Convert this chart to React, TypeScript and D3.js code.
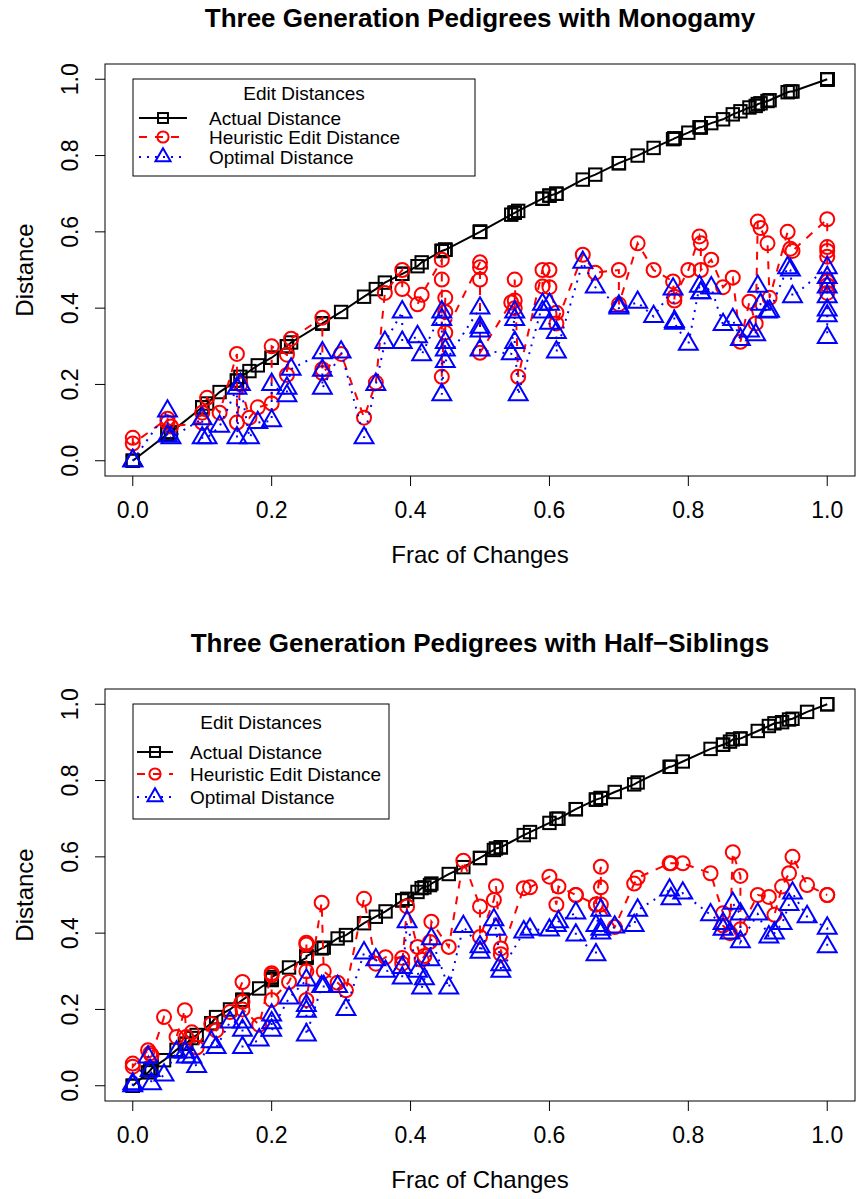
import * as d3 from 'd3';

// ---- data ----
const tickVals = [0, 0.2, 0.4, 0.6, 0.8, 1.0];
const legendTitle = 'Edit Distances';
const legendLabels = ['Actual Distance', 'Heuristic Edit Distance', 'Optimal Distance'];

// Three Generation Pedigrees with Monogamy
const monoFrac = [
  0, 0, 0.05, 0.05, 0.055, 0.1, 0.1, 0.107, 0.125, 0.15, 0.15, 0.155, 0.168, 0.18, 0.2, 0.2,
  0.222, 0.222, 0.228, 0.273, 0.273, 0.273, 0.3, 0.333, 0.35, 0.363, 0.388, 0.388, 0.41, 0.416,
  0.445, 0.445, 0.445, 0.45, 0.45, 0.45, 0.5, 0.5, 0.5, 0.5, 0.545, 0.55, 0.55, 0.55, 0.555,
  0.59, 0.59, 0.6, 0.6, 0.61, 0.61, 0.648, 0.666, 0.7, 0.7, 0.727, 0.75, 0.778, 0.78, 0.78,
  0.8, 0.816, 0.818, 0.818, 0.833, 0.85, 0.864, 0.875, 0.888, 0.897, 0.9, 0.904, 0.914, 0.917,
  0.943, 0.947, 0.95, 1, 1, 1, 1, 1, 1, 1,
];
const monoActual = [
  0, 0, 0.07, 0.075, 0.075, 0.14, 0.14, 0.15, 0.18, 0.21, 0.21, 0.22, 0.235, 0.25, 0.27, 0.27,
  0.3, 0.3, 0.31, 0.36, 0.36, 0.36, 0.39, 0.43, 0.45, 0.467, 0.49, 0.49, 0.51, 0.52,
  0.55, 0.55, 0.55, 0.553, 0.553, 0.553, 0.6, 0.6, 0.6, 0.6, 0.645, 0.65, 0.65, 0.65, 0.655,
  0.687, 0.687, 0.695, 0.695, 0.7, 0.7, 0.737, 0.75, 0.78, 0.78, 0.8, 0.82, 0.843, 0.845, 0.845,
  0.86, 0.874, 0.874, 0.874, 0.885, 0.895, 0.908, 0.916, 0.926, 0.93, 0.935, 0.937, 0.943, 0.945,
  0.966, 0.968, 0.968, 1, 1, 1, 1, 1, 1, 1,
];
const monoHeuristic = [
  0.06, 0.045, 0.11, 0.1, 0.09, 0.1, 0.126, 0.165, 0.126, 0.28, 0.1, 0.2, 0.113, 0.14, 0.15, 0.3,
  0.278, 0.225, 0.32, 0.375, 0.24, 0.23, 0.28, 0.113, 0.205, 0.44, 0.5, 0.45, 0.41, 0.435,
  0.527, 0.475, 0.22, 0.427, 0.39, 0.336, 0.52, 0.507, 0.475, 0.283, 0.415, 0.42, 0.4, 0.475, 0.22,
  0.5, 0.457, 0.5, 0.455, 0.388, 0.36, 0.54, 0.493, 0.5, 0.41, 0.57, 0.5, 0.47, 0.42, 0.43,
  0.5, 0.588, 0.57, 0.5, 0.527, 0.455, 0.48, 0.312, 0.417, 0.36, 0.627, 0.61, 0.57, 0.427,
  0.6, 0.556, 0.55, 0.633, 0.56, 0.55, 0.535, 0.47, 0.46, 0.44,
];
const monoOptimal = [
  0, 0, 0.13, 0.065, 0.06, 0.11, 0.06, 0.06, 0.09, 0.19, 0.06, 0.2, 0.06, 0.1, 0.105, 0.2,
  0.17, 0.19, 0.24, 0.283, 0.237, 0.19, 0.285, 0.06, 0.2, 0.31, 0.39, 0.31, 0.325, 0.278,
  0.39, 0.37, 0.173, 0.31, 0.29, 0.26, 0.4, 0.35, 0.34, 0.29, 0.28, 0.39, 0.37, 0.31, 0.173,
  0.41, 0.39, 0.41, 0.36, 0.336, 0.285, 0.52, 0.455, 0.405, 0.4, 0.415, 0.378, 0.45, 0.365, 0.36,
  0.305, 0.457, 0.44, 0.44, 0.453, 0.357, 0.37, 0.318, 0.34, 0.33, 0.457, 0.41, 0.39, 0.392,
  0.506, 0.5, 0.43, 0.506, 0.48, 0.455, 0.43, 0.395, 0.38, 0.323,
];

// Three Generation Pedigrees with Half-Siblings
const halfFrac = [
  0, 0, 0.022, 0.025, 0.027, 0.045, 0.063, 0.075, 0.077, 0.085, 0.092, 0.113, 0.12, 0.14,
  0.158, 0.158, 0.158, 0.182, 0.2, 0.2, 0.2, 0.225, 0.25, 0.25, 0.25, 0.25, 0.272, 0.275,
  0.295, 0.307, 0.333, 0.35, 0.364, 0.388, 0.388, 0.395, 0.41, 0.416, 0.42, 0.428, 0.43,
  0.455, 0.476, 0.5, 0.5, 0.52, 0.523, 0.53, 0.53, 0.563, 0.572, 0.6, 0.61, 0.613, 0.638,
  0.638, 0.667, 0.667, 0.674, 0.674, 0.674, 0.694, 0.722, 0.727, 0.773, 0.775, 0.792, 0.832,
  0.85, 0.85, 0.86, 0.864, 0.875, 0.875, 0.9, 0.916, 0.924, 0.935, 0.945, 0.95, 0.971, 1, 1,
];
const halfActual = [
  0, 0, 0.035, 0.04, 0.045, 0.067, 0.094, 0.11, 0.11, 0.125, 0.133, 0.164, 0.18, 0.2,
  0.225, 0.225, 0.225, 0.255, 0.277, 0.28, 0.285, 0.31, 0.335, 0.335, 0.34, 0.34, 0.36, 0.362,
  0.386, 0.395, 0.426, 0.443, 0.457, 0.486, 0.486, 0.49, 0.508, 0.518, 0.52, 0.526, 0.53,
  0.555, 0.573, 0.597, 0.597, 0.618, 0.622, 0.625, 0.625, 0.657, 0.665, 0.689, 0.7, 0.7, 0.725,
  0.725, 0.75, 0.75, 0.754, 0.754, 0.754, 0.77, 0.79, 0.795, 0.836, 0.836, 0.85, 0.883,
  0.894, 0.894, 0.902, 0.908, 0.91, 0.91, 0.93, 0.943, 0.95, 0.953, 0.96, 0.962, 0.98, 1, 1,
];
const halfHeuristic = [
  0.058, 0.05, 0.093, 0.085, 0.08, 0.18, 0.128, 0.198, 0.128, 0.14, 0.1, 0.162, 0.145, 0.193,
  0.272, 0.22, 0.2, 0.16, 0.295, 0.29, 0.225, 0.272, 0.375, 0.37, 0.3, 0.225, 0.48, 0.3,
  0.27, 0.25, 0.49, 0.32, 0.337, 0.335, 0.32, 0.47, 0.364, 0.33, 0.34, 0.377, 0.43,
  0.364, 0.59, 0.47, 0.39, 0.487, 0.523, 0.36, 0.345, 0.518, 0.52, 0.548, 0.475, 0.522, 0.5,
  0.5, 0.475, 0.475, 0.574, 0.52, 0.475, 0.416, 0.53, 0.545, 0.583, 0.583, 0.583, 0.557,
  0.452, 0.42, 0.4, 0.612, 0.55, 0.41, 0.5, 0.495, 0.448, 0.522, 0.557, 0.6, 0.526, 0.5, 0.5,
];
const halfOptimal = [
  0, 0.005, 0.075, 0.04, 0.005, 0.028, 0.088, 0.088, 0.075, 0.075, 0.05, 0.115, 0.1, 0.167,
  0.167, 0.145, 0.1, 0.12, 0.185, 0.165, 0.145, 0.23, 0.277, 0.21, 0.195, 0.133, 0.26, 0.26,
  0.26, 0.2, 0.348, 0.33, 0.3, 0.31, 0.282, 0.43, 0.3, 0.256, 0.28, 0.33, 0.385,
  0.256, 0.417, 0.364, 0.35, 0.435, 0.41, 0.317, 0.3, 0.403, 0.41, 0.408, 0.42, 0.43, 0.453,
  0.395, 0.343, 0.42, 0.46, 0.41, 0.4, 0.416, 0.42, 0.46, 0.513, 0.49, 0.505, 0.448,
  0.425, 0.41, 0.4, 0.478, 0.45, 0.377, 0.45, 0.39, 0.4, 0.425, 0.475, 0.505, 0.443, 0.413, 0.364,
];

// ---- drawing ----
const W = 857;
const H = 1199;
const font = "'Liberation Sans', Arial, Helvetica, sans-serif";
const boxLeft = 105;
const boxRight = 855;
const boxTop = 64;
const boxBottom = 476;
const panelShift = 625;

const styles = [
  { color: '#000000', dash: undefined, kind: 'square' },
  { color: '#FF0000', dash: '8,8', kind: 'circle' },
  { color: '#0000FF', dash: '2,6', kind: 'triangle' },
];

function Marker({ kind, cx, cy, r, color }: any) {
  const common = { fill: 'none', stroke: color, strokeWidth: 2 };
  if (kind === 'square') {
    const h = r * 0.886;
    return <rect x={cx - h} y={cy - h} width={2 * h} height={2 * h} {...common} />;
  }
  if (kind === 'circle') return <circle cx={cx} cy={cy} r={r} {...common} />;
  const d = `M${cx},${cy - 1.555 * r}L${cx + 1.347 * r},${cy + 0.778 * r}L${cx - 1.347 * r},${cy + 0.778 * r}Z`;
  return <path d={d} {...common} />;
}

function Panel({ shift, title, frac, series, legend }: any) {
  const x = d3.scaleLinear().domain([-0.04, 1.04]).range([boxLeft, boxRight]);
  const y = d3.scaleLinear().domain([-0.04, 1.04]).range([boxBottom + shift, boxTop + shift]);
  const fmt = d3.format('.1f');
  const midX = (boxLeft + boxRight) / 2;
  const midY = (boxTop + boxBottom) / 2 + shift;

  return (
    <g fontFamily={font}>
      <text x={midX} y={27 + shift} textAnchor="middle" fontWeight="bold" fontSize={26}>{title}</text>

      {/* x axis */}
      {tickVals.map(t => (
        <g key={'x' + t}>
          <line x1={x(t)} x2={x(t)} y1={boxBottom + shift} y2={boxBottom + shift + 10} stroke="#000" />
          <text x={x(t)} y={518 + shift} textAnchor="middle" fontSize={23}>{fmt(t)}</text>
        </g>
      ))}
      <text x={midX} y={563 + shift} textAnchor="middle" fontSize={24}>Frac of Changes</text>

      {/* y axis */}
      {tickVals.map(t => (
        <g key={'y' + t}>
          <line x1={boxLeft - 10} x2={boxLeft} y1={y(t)} y2={y(t)} stroke="#000" />
          <text transform={`translate(78,${y(t)}) rotate(-90)`} textAnchor="middle" fontSize={23}>{fmt(t)}</text>
        </g>
      ))}
      <text transform={`translate(33,${midY}) rotate(-90)`} textAnchor="middle" fontSize={24}>Distance</text>

      <rect x={boxLeft} y={boxTop + shift} width={boxRight - boxLeft} height={boxBottom - boxTop}
        fill="none" stroke="#000" strokeWidth={1} />

      {series.map((vals: number[], si: number) => {
        const st = styles[si];
        const line = d3.line<number>().x((_, i) => x(frac[i])).y(v => y(v));
        return (
          <g key={si}>
            <path d={line(vals) || ''} fill="none" stroke={st.color} strokeWidth={2} strokeDasharray={st.dash} />
            {vals.map((v, i) => (
              <Marker key={i} kind={st.kind} cx={x(frac[i])} cy={y(v)} r={7} color={st.color} />
            ))}
          </g>
        );
      })}

      {/* legend */}
      <rect x={legend.x0} y={legend.y0 + shift} width={legend.x1 - legend.x0} height={legend.y1 - legend.y0}
        fill="#fff" stroke="#000" strokeWidth={1} />
      <text x={(legend.x0 + legend.x1) / 2} y={legend.titleY + shift} textAnchor="middle" fontSize={19}>{legendTitle}</text>
      {legendLabels.map((lab, i) => {
        const st = styles[i];
        const cy = legend.rows[i] + shift - 7;
        const cx = (legend.segA + legend.segB) / 2;
        return (
          <g key={lab}>
            <line x1={legend.segA} x2={legend.segB} y1={cy} y2={cy} stroke={st.color} strokeWidth={2} strokeDasharray={st.dash} />
            <Marker kind={st.kind} cx={cx} cy={cy} r={5.6} color={st.color} />
            <text x={legend.textX} y={legend.rows[i] + shift} fontSize={19}>{lab}</text>
          </g>
        );
      })}
    </g>
  );
}

export default function App() {
  return (
    <svg width={W} height={H} viewBox={`0 0 ${W} ${H}`}
      style={{ position: 'absolute', left: 0, top: 0, background: '#fff' }}>
      <rect width={W} height={H} fill="#fff" />
      <Panel shift={0} title="Three Generation Pedigrees with Monogamy" frac={monoFrac}
        series={[monoActual, monoHeuristic, monoOptimal]}
        legend={{ x0: 133, x1: 475, y0: 79, y1: 176, titleY: 100, rows: [125, 144, 164], segA: 139, segB: 187, textX: 209 }} />
      <Panel shift={panelShift} title="Three Generation Pedigrees with Half−Siblings" frac={halfFrac}
        series={[halfActual, halfHeuristic, halfOptimal]}
        legend={{ x0: 133, x1: 389, y0: 79, y1: 194, titleY: 104, rows: [134, 156, 179], segA: 137, segB: 173, textX: 190 }} />
    </svg>
  );
}
